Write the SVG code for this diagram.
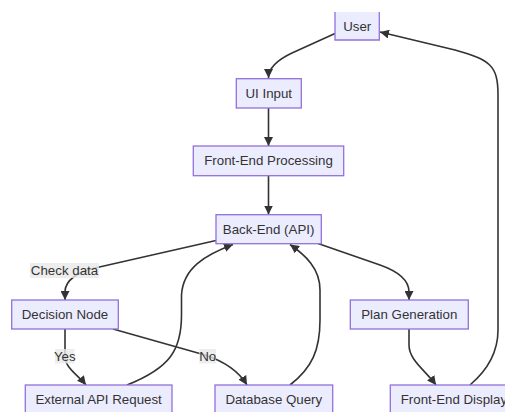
<svg xmlns="http://www.w3.org/2000/svg" width="505" height="412" viewBox="0 0 505 412">
  <style>
    .node rect, .node path.box { fill: #ECECFF; stroke: #9370DB; stroke-width: 1.3; }
    .node text { font-family: "Liberation Sans", Arial, sans-serif; font-size: 13.3px; fill: #333; text-anchor: middle; dominant-baseline: central; }
    .edge { fill: none; stroke: #333; stroke-width: 1.6; marker-end: url(#arrow); }
    .lbl rect { fill: #E8E8E8; fill-opacity: 0.8; }
    .lbl text { font-family: "Liberation Sans", Arial, sans-serif; font-size: 13.3px; fill: #333; text-anchor: middle; dominant-baseline: central; }
  </style>
  <defs>
    <marker id="arrow" viewBox="0 0 10 10" refX="10" refY="5" markerWidth="9" markerHeight="9" markerUnits="userSpaceOnUse" orient="auto">
      <path d="M0,0 L10,5 L0,10 z" fill="#333"/>
    </marker>
  </defs>
  <rect width="505" height="412" fill="#fff"/>

  <g id="connectors">
    <path class="edge" d="M335,33.5 L292,53 Q268.5,64 268.5,78"/>
    <path class="edge" d="M268.5,108 L268.5,146"/>
    <path class="edge" d="M268.5,176 L268.5,214.5"/>
    <path class="edge" d="M216,240.5 L95,268 C78,272 65,280 65,292 L65,300"/>
    <path class="edge" d="M65,329 L65,356 C65,368 78,375 86,385"/>
    <path class="edge" d="M113,329 L205,355 Q235,365 247,385"/>
    <path class="edge" d="M127,385 C170,368 181.5,350 181.5,315 L181.5,295 C183,268 205,255 233,244.5"/>
    <path class="edge" d="M290,385 C312,368 320,350 320,320 L320,290 C320,268 305,255 290,244.5"/>
    <path class="edge" d="M318,243.5 L380,265 C400,272 409,282 409,292 L409,300"/>
    <path class="edge" d="M409,329 L409,345 C409,360 425,370 436,385"/>
    <path class="edge" d="M470,385 C490,368 498,350 498,330 L498,95 C498,65 490,60 455,50 L380,32"/>
  </g>

  <g id="edge-labels">
    <g class="lbl" id="label-check-data">
      <rect x="30" y="263" width="69" height="15"/>
      <text x="64.5" y="270.5">Check data</text>
    </g>
    <g class="lbl" id="label-yes">
      <rect x="55" y="349" width="19.5" height="14.5"/>
      <text x="64.8" y="356">Yes</text>
    </g>
    <g class="lbl" id="label-no">
      <rect x="199.3" y="349" width="16.7" height="14.5"/>
      <text x="207.7" y="356">No</text>
    </g>
  </g>

  <g class="node" id="user">
    <rect x="335" y="12" width="44.3" height="28" style="stroke:none"/>
    <path d="M335,12 L335,40 L379.3,40 L379.3,12" style="fill:none;stroke:#9370DB;stroke-width:1.3"/>
    <text x="357.2" y="26">User</text>
  </g>
  <g class="node" id="ui-input">
    <rect x="236.3" y="78.7" width="65" height="29.3"/>
    <text x="268.8" y="93.3">UI Input</text>
  </g>
  <g class="node" id="front-end-processing">
    <rect x="193.3" y="146" width="150.4" height="29.7"/>
    <text x="268.5" y="160.8">Front-End Processing</text>
  </g>
  <g class="node" id="back-end">
    <rect x="216" y="214.7" width="105.3" height="29"/>
    <text x="268.6" y="229.2">Back-End (API)</text>
  </g>
  <g class="node" id="decision-node">
    <rect x="11.7" y="300" width="106.6" height="29"/>
    <text x="65" y="314.5">Decision Node</text>
  </g>
  <g class="node" id="plan-generation">
    <rect x="350.3" y="300" width="118" height="29"/>
    <text x="409.3" y="314.5">Plan Generation</text>
  </g>
  <g class="node" id="external-api-request">
    <rect x="25.3" y="385" width="146.7" height="30"/>
    <text x="98.6" y="399">External API Request</text>
  </g>
  <g class="node" id="database-query">
    <rect x="215" y="385" width="117.7" height="30"/>
    <text x="273.8" y="399">Database Query</text>
  </g>
  <g class="node" id="front-end-display">
    <rect x="390.3" y="385" width="140" height="30"/>
    <text x="400.7" y="399" style="text-anchor:start">Front-End Display</text>
  </g>
</svg>
